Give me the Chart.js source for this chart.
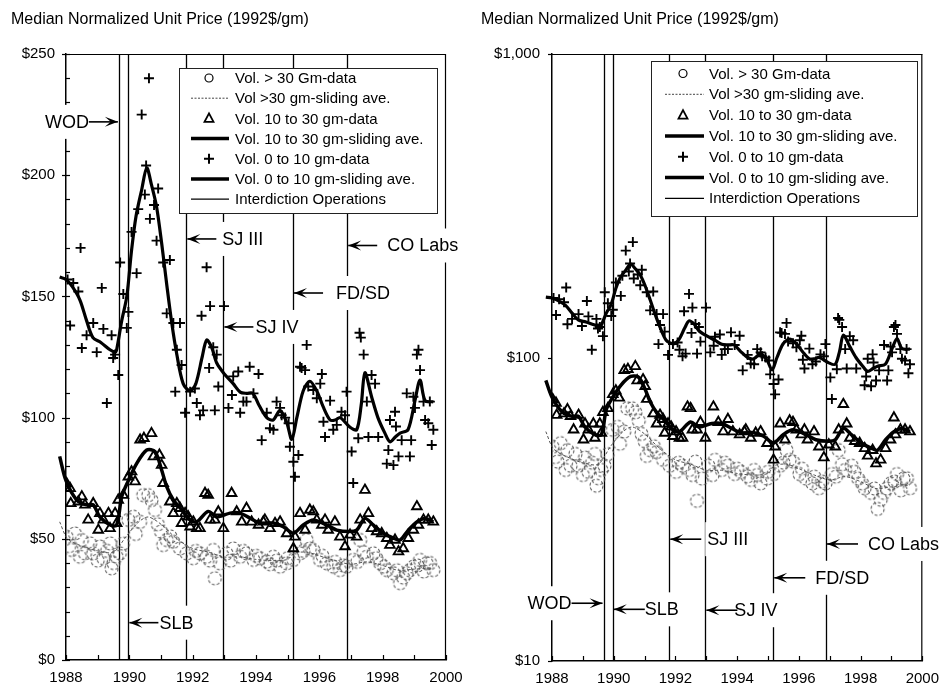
<!DOCTYPE html>
<html><head><meta charset="utf-8">
<script src="https://cdn.jsdelivr.net/npm/chart.js@4.4.1/dist/chart.umd.min.js"></script>
<style>
html,body{margin:0;padding:0;background:#fff;width:948px;height:698px;overflow:hidden}
.wrap{position:absolute;top:0;width:474px;height:698px}
canvas{display:block}
</style></head><body>
<div class="wrap" style="left:0"><canvas id="c1" width="474" height="698"></canvas></div>
<div class="wrap" style="left:474px"><canvas id="c2" width="474" height="698"></canvas></div>
<script>
// ---------------- DATA ----------------
const titleText = 'Median Normalized Unit Price (1992$/gm)';
const legendLabels = ['Vol. > 30 Gm-data','Vol >30 gm-sliding ave.','Vol. 10 to 30 gm-data','Vol. 10 to 30 gm-sliding ave.','Vol. 0 to 10 gm-data','Vol. 0 to 10 gm-sliding ave.','Interdiction Operations'];
const xTickYears = [1988,1990,1992,1994,1996,1998,2000];
const yTicksLinear = [0,50,100,150,200,250];
const yTicksLog = [10,100,1000];
const interdictionYears = [1989.67,1989.97,1991.8,1992.97,1995.17,1996.88];
const interdictionLabels = ['WOD','SLB','SJ III','SJ IV','FD/SD','CO Labs'];

// Vol. 0 to 10 gm - data
const smallYears = [1988.05,1988.13,1988.23,1988.39,1988.46,1988.5,1988.65,1988.86,1988.97,1989.13,1989.18,1989.29,1989.44,1989.49,1989.55,1989.65,1989.71,1989.81,1989.92,1989.97,1990.07,1990.23,1990.28,1990.39,1990.49,1990.53,1990.62,1990.65,1990.78,1990.86,1990.91,1991.07,1991.18,1991.28,1991.39,1991.45,1991.5,1991.6,1991.65,1991.76,1991.92,1992.07,1992.13,1992.23,1992.28,1992.33,1992.44,1992.52,1992.55,1992.65,1992.7,1992.76,1992.81,1992.99,1993.13,1993.24,1993.28,1993.44,1993.5,1993.6,1993.7,1993.8,1993.92,1994.08,1994.18,1994.34,1994.44,1994.55,1994.65,1994.76,1994.81,1994.92,1995.03,1995.07,1995.18,1995.23,1995.34,1995.39,1995.44,1995.55,1995.6,1995.65,1995.81,1995.92,1996.03,1996.08,1996.13,1996.18,1996.34,1996.44,1996.55,1996.7,1996.81,1996.86,1997.02,1997.07,1997.23,1997.27,1997.31,1997.4,1997.5,1997.55,1997.65,1997.76,1997.86,1998.13,1998.18,1998.23,1998.34,1998.39,1998.42,1998.5,1998.6,1998.76,1998.86,1998.9,1998.97,1999.02,1999.08,1999.13,1999.18,1999.29,1999.34,1999.44,1999.49,1999.55,1999.6];
const smallVals = [157,138,155.5,152,170,128.7,134,139,127,153.5,136.6,106,134,124.6,126,117.6,164,151,137,143.6,176.6,159.6,186,225,192,204,240,182,187.7,173,194.5,164,143,165,139,110.7,128,139,121.7,102,110.7,112,106,101,142,103,162,120.5,146,129,103,126,112.8,146,104,109.3,117,119,102,106.6,106.6,121,110,118,90.7,102,95.6,95,106.6,104,101,100,97.7,88,81.8,75.6,84.6,121,120.5,119.6,130,112.8,111.4,108,114,118,98.3,92,107,95,97,102.4,101,110.7,86,73,91.5,135,133,126,106.6,92,117.6,114,92,81,86.6,99,80.4,102.4,96.3,84,90.7,110,84,90.7,108.6,104,126,128,119.6,106.6,99,97.7,106.6,88.7,95];

// Vol. 0 to 10 gm - sliding average
const smallAvgYears = [1987.8,1988.0,1988.2,1988.44,1988.65,1988.85,1989.1,1989.39,1989.55,1989.6,1989.76,1989.92,1990.07,1990.21,1990.39,1990.55,1990.7,1990.86,1991.02,1991.18,1991.34,1991.5,1991.7,1991.92,1992.1,1992.3,1992.44,1992.6,1992.76,1993.0,1993.28,1993.5,1993.7,1993.9,1994.1,1994.34,1994.54,1994.76,1994.97,1995.13,1995.29,1995.49,1995.7,1995.92,1996.12,1996.34,1996.5,1996.66,1996.97,1997.18,1997.32,1997.44,1997.65,1997.85,1998.07,1998.23,1998.4,1998.55,1998.8,1999.02,1999.18,1999.34,1999.6];
const smallAvgVals = [158,157,154,148.5,140,133,131,128,127,128,140,150,169,183,194,203,196,187,172,155,139,126,114,111,114,125,132,129,122.5,118,114,110.5,110,110,105,100,99,103,98,91,100,111,115,111,104.5,99,99,100,96,95,105,118.5,108.6,100,93.6,90,92,93.6,95,107,115.5,107,106.5];

// Vol. 10 to 30 gm - data
const midYears = [1988.02,1988.13,1988.15,1988.39,1988.5,1988.6,1988.7,1988.86,1989.02,1989.07,1989.18,1989.34,1989.39,1989.55,1989.6,1989.65,1989.81,1989.97,1990.07,1990.18,1990.34,1990.46,1990.7,1990.76,1990.95,1991.02,1991.07,1991.28,1991.39,1991.5,1991.6,1991.65,1991.76,1991.86,1991.92,1992.02,1992.13,1992.23,1992.39,1992.49,1992.55,1992.7,1992.81,1992.97,1993.23,1993.39,1993.55,1993.7,1993.86,1994.08,1994.23,1994.28,1994.44,1994.6,1994.76,1994.97,1995.18,1995.23,1995.39,1995.55,1995.7,1995.81,1995.92,1996.08,1996.18,1996.28,1996.49,1996.65,1996.81,1996.97,1997.18,1997.29,1997.44,1997.55,1997.65,1997.81,1997.97,1998.13,1998.23,1998.39,1998.5,1998.65,1998.81,1998.97,1999.08,1999.13,1999.29,1999.44,1999.6];
const midVals = [72.8,70.8,64.6,65.3,67.4,64,57.8,64.6,53.6,60.5,57.8,60.5,54.3,60.5,56.4,66,68,75.6,77.7,73.6,90.8,91.5,93.5,83.9,84.6,80.4,72.9,65.3,60.5,64.6,62.6,56.4,60.5,59.1,55,57,54.3,54.3,68.8,68,57.8,57.8,61.2,54.3,68.8,61.2,57,62.6,57,55.7,57,57.8,54.3,56.4,57,52.2,46,50.8,60.5,53.6,61.9,61.2,57.8,55.7,57.8,53.6,57,50.8,46.8,51.6,50.8,57.8,70.1,60.5,54.3,53,52.2,50.2,47.4,49.5,44.7,46,50.2,53.6,63.3,55.7,57.8,57.8,57];

// Vol. 10 to 30 gm - sliding average
const midAvgYears = [1987.8,1988.0,1988.34,1988.65,1988.86,1989.07,1989.39,1989.6,1989.76,1989.97,1990.23,1990.55,1990.81,1991.02,1991.18,1991.39,1991.65,1991.92,1992.13,1992.49,1992.76,1993.18,1993.5,1993.81,1994.13,1994.55,1994.86,1995.18,1995.49,1995.81,1996.23,1996.55,1996.97,1997.18,1997.44,1997.7,1998.02,1998.34,1998.55,1998.81,1999.08,1999.34,1999.6];
const midAvgVals = [84,74,66,64,64,59,55.7,55.7,67.4,74,81,86.6,86,78.4,71.5,66,62,57.8,57,61.3,59,60.6,60.6,58.5,56.5,56.5,55,52.3,55.7,57.8,55.7,53.6,53,53.6,58.4,55.7,52.3,50.3,49.5,53.6,57,58.4,57];

// Vol. > 30 gm - data
const largeYears = [1988.02,1988.1,1988.18,1988.28,1988.44,1988.5,1988.6,1988.76,1988.86,1989.0,1989.07,1989.18,1989.3,1989.39,1989.44,1989.5,1989.6,1989.7,1989.8,1989.97,1990.13,1990.2,1990.34,1990.44,1990.6,1990.7,1990.81,1990.9,1991.0,1991.07,1991.18,1991.3,1991.39,1991.6,1991.81,1992.02,1992.1,1992.23,1992.44,1992.55,1992.65,1992.7,1992.86,1993.07,1993.2,1993.28,1993.5,1993.6,1993.7,1993.92,1994.0,1994.13,1994.34,1994.45,1994.55,1994.65,1994.76,1994.97,1995.0,1995.18,1995.39,1995.5,1995.6,1995.7,1995.81,1996.02,1996.1,1996.23,1996.44,1996.5,1996.65,1996.75,1996.86,1997.07,1997.2,1997.29,1997.4,1997.5,1997.71,1997.8,1997.92,1998.05,1998.13,1998.34,1998.45,1998.55,1998.65,1998.76,1998.85,1998.97,1999.1,1999.18,1999.3,1999.39,1999.5,1999.6];
const largeVals = [50.8,47,45.4,52.2,42.6,49.5,44,48.1,44,41,46.8,42,45,48.1,37.8,40,42.6,44,48,57.8,59.1,52,57,68,68,66,61.9,56,53,47.4,49.5,51,48.8,46,44,42,45,44,42.6,41,45.4,33.7,39.9,44,41,46,42.6,45,44,41.3,43,42,40.6,39.5,42.6,41,38.5,39.9,42,41.3,44,45,49.5,46,45.4,41.3,43,39.9,38.5,40.5,37.1,39,38.5,41.3,40.5,49.5,44.5,42.6,44,42,39.9,38.5,37.1,35.8,37,31.7,34,35.8,37,38.5,39,41.3,36.5,39.9,40,37.1];

// Vol. > 30 gm - sliding average
const largeAvgYears = [1987.8,1988.05,1988.5,1989.0,1989.5,1989.9,1990.3,1990.6,1991.0,1991.5,1992.0,1992.5,1993.0,1993.5,1994.0,1994.5,1995.0,1995.2,1995.6,1996.0,1996.5,1997.0,1997.5,1998.0,1998.5,1999.0,1999.6];
const largeAvgVals = [57,50,47,45,44.5,51,57,59,56,50,46,44.5,42.5,42.5,41.5,41,41.5,44,44.5,43,41,39.5,40.5,39,37,37.5,38];

// ---------------- STYLE / LAYOUT ----------------
const FONT = '"Liberation Sans", Arial, Helvetica, sans-serif';
Chart.defaults.font.family = FONT;
Chart.defaults.font.size = 15;
Chart.defaults.color = '#000';

const panels = [
  { id:'c1', type:'linear', min:0, max:250, ticks:yTicksLinear, minorStep:10, yWidth:66, padRight:28, xHeight:38, yPad:11,
    titleX:11,
    legend:{x0:179,y0:68,x1:437,y1:213,row0:78,step:20.2,symX:209,lineX0:191,lineX1:229,textX:235},
    labelVals:[222,15.4,173.7,137.4,151.4,171], labelGaps:[0,1,6,2,13,10], arrowLen:29 },
  { id:'c2', type:'logarithmic', min:10, max:1000, ticks:yTicksLog, minorStep:0, yWidth:78, padRight:21, xHeight:37, yPad:12,
    titleX:7,
    legend:{x0:177,y0:61,x1:443,y1:216,row0:73.5,step:20.8,symX:209,lineX0:191,lineX1:230,textX:235},
    labelVals:[15.5,14.8,25.2,14.7,18.8,24.3], labelGaps:[0,0,6,-3,10,10], arrowLen:31 }
];

function pts(xs, ys){ return xs.map((x,i)=>({x:x, y:ys[i]})); }

function dashedCircle(r){
  const s = Math.ceil(2*r+4);
  const c = document.createElement('canvas'); c.width=s; c.height=s;
  const g = c.getContext('2d');
  g.strokeStyle='#5a5a5a'; g.lineWidth=1.1; g.setLineDash([3,2]);
  g.beginPath(); g.arc(s/2,s/2,r,0,Math.PI*2); g.stroke();
  return c;
}
const circleImg = dashedCircle(6.5);

function drawArrow(ctx, tipX, y, dir, len){
  // dir = -1 : pointing left ; dir = +1 : pointing right
  const tailX = tipX - dir*len;
  ctx.save();
  ctx.strokeStyle='#000'; ctx.fillStyle='#000'; ctx.lineWidth=1.6;
  ctx.beginPath(); ctx.moveTo(tailX,y); ctx.lineTo(tipX,y); ctx.stroke();
  const hl=13, hw=5;
  ctx.beginPath();
  ctx.moveTo(tipX,y);
  ctx.lineTo(tipX - dir*hl, y-hw);
  ctx.lineTo(tipX - dir*hl*0.55, y);
  ctx.lineTo(tipX - dir*hl, y+hw);
  ctx.closePath(); ctx.fill();
  ctx.restore();
}

function makePlugin(p){
  return {
    id:'decor',
    beforeDatasetsDraw(chart){
      const {ctx, chartArea:a, scales:{x, y}} = chart;
      ctx.save();
      ctx.strokeStyle='#000';
      ctx.lineWidth=1.3;
      interdictionYears.forEach(v=>{
        const px = Math.round(x.getPixelForValue(v))+0.5;
        ctx.beginPath(); ctx.moveTo(px,a.top); ctx.lineTo(px,a.bottom); ctx.stroke();
      });
      ctx.lineWidth=1.2;
      ctx.beginPath(); ctx.moveTo(a.left-4,a.top+0.5); ctx.lineTo(a.right,a.top+0.5); ctx.stroke();
      ctx.beginPath(); ctx.moveTo(a.right-0.5,a.top); ctx.lineTo(a.right-0.5,a.bottom); ctx.stroke();
      for(let yr=1988; yr<=2000; yr++){
        const px = Math.round(x.getPixelForValue(yr))+0.5;
        ctx.beginPath(); ctx.moveTo(px,a.bottom); ctx.lineTo(px,a.bottom-5); ctx.stroke();
      }
      if(p.minorStep){
        for(let v=p.min; v<=p.max; v+=p.minorStep){
          const py = Math.round(y.getPixelForValue(v))+0.5;
          ctx.beginPath(); ctx.moveTo(a.left,py); ctx.lineTo(a.left+4,py); ctx.stroke();
        }
      }
      p.ticks.forEach(v=>{
        const py = Math.round(y.getPixelForValue(v))+0.5;
        ctx.beginPath(); ctx.moveTo(a.left-4,py); ctx.lineTo(a.left,py); ctx.stroke();
      });
      ctx.restore();
    },
    afterDatasetsDraw(chart){
      const {ctx, chartArea:a, scales:{x, y}} = chart;
      ctx.save();
      ctx.font = '18px '+FONT;
      ctx.textBaseline='middle';
      interdictionLabels.forEach((t,i)=>{
        const lx = x.getPixelForValue(interdictionYears[i]);
        const ly = y.getPixelForValue(p.labelVals[i]);
        const w = ctx.measureText(t).width;
        let tx, tipX, dir;
        if(i===0){
          dir = 1; tipX = lx-1; tx = lx - p.arrowLen - 1 - w;
        } else {
          dir = -1; tipX = lx+1; tx = lx + 1 + p.arrowLen + p.labelGaps[i];
        }
        ctx.fillStyle='#fff';
        ctx.fillRect(tx-2, ly-17, w+4, 34);
        ctx.fillStyle='#000';
        ctx.textAlign='left';
        ctx.fillText(t, tx, ly+1);
        drawArrow(ctx, tipX, ly, dir, p.arrowLen);
      });
      const L = p.legend;
      ctx.fillStyle='#fff';
      ctx.fillRect(L.x0, L.y0, L.x1-L.x0, L.y1-L.y0);
      ctx.strokeStyle='#222'; ctx.lineWidth=1;
      ctx.strokeRect(L.x0+0.5, L.y0+0.5, L.x1-L.x0, L.y1-L.y0);
      ctx.font='15px '+FONT;
      ctx.textAlign='left'; ctx.textBaseline='middle';
      legendLabels.forEach((t,i)=>{
        const ry = L.row0 + i*L.step;
        ctx.strokeStyle='#000'; ctx.fillStyle='#000'; ctx.setLineDash([]);
        if(i===0){
          ctx.lineWidth=1.2; ctx.beginPath(); ctx.arc(L.symX, ry, 4, 0, Math.PI*2); ctx.stroke();
        } else if(i===2){
          ctx.lineWidth=1.8; ctx.beginPath();
          ctx.moveTo(L.symX, ry-5); ctx.lineTo(L.symX-4.5, ry+3.5); ctx.lineTo(L.symX+4.5, ry+3.5); ctx.closePath(); ctx.stroke();
        } else if(i===4){
          ctx.lineWidth=2; ctx.beginPath();
          ctx.moveTo(L.symX-5, ry); ctx.lineTo(L.symX+5, ry);
          ctx.moveTo(L.symX, ry-5); ctx.lineTo(L.symX, ry+5); ctx.stroke();
        } else {
          let lw = 1.2;
          if(i===1){ lw=1; ctx.setLineDash([2,1.5]); ctx.strokeStyle='#444'; }
          if(i===3 || i===5) lw=3.5;
          ctx.lineWidth=lw; ctx.beginPath(); ctx.moveTo(L.lineX0, ry); ctx.lineTo(L.lineX1, ry); ctx.stroke();
          ctx.setLineDash([]);
        }
        ctx.fillStyle='#000';
        ctx.fillText(t, L.textX, ry+1);
      });
      ctx.font='16px '+FONT;
      ctx.textAlign='left'; ctx.textBaseline='middle';
      ctx.fillText(titleText, p.titleX, 20);
      ctx.restore();
    }
  };
}

const clipLeft = {left:10, top:0, right:0, bottom:0};

panels.forEach(p=>{
  new Chart(document.getElementById(p.id), {
    type:'scatter',
    data:{ datasets:[
      { label:legendLabels[5], data:pts(smallAvgYears, smallAvgVals), showLine:true, borderColor:'#000', borderWidth:3.2, pointRadius:0, tension:0.3, clip:clipLeft },
      { label:legendLabels[4], data:pts(smallYears, smallVals), showLine:false, pointStyle:'cross', pointRadius:5, borderColor:'#000', borderWidth:1.9 },
      { label:legendLabels[3], data:pts(midAvgYears, midAvgVals), showLine:true, borderColor:'#000', borderWidth:3.5, pointRadius:0, tension:0.3, clip:clipLeft },
      { label:legendLabels[2], data:pts(midYears, midVals), showLine:false, pointStyle:'triangle', pointRadius:5.5, borderColor:'#000', backgroundColor:'rgba(0,0,0,0)', borderWidth:1.9 },
      { label:legendLabels[1], data:pts(largeAvgYears, largeAvgVals), showLine:true, borderColor:'#555', borderWidth:1, borderDash:[3,2], pointRadius:0, tension:0.3, clip:clipLeft },
      { label:legendLabels[0], data:pts(largeYears, largeVals), showLine:false, pointStyle:circleImg, pointRadius:6.5, borderColor:'#666' }
    ]},
    options:{
      responsive:false, animation:false, devicePixelRatio:1,
      layout:{ padding:{ left:0, right:p.padRight, top:54, bottom:0 } },
      plugins:{ legend:{display:false}, tooltip:{enabled:false}, title:{display:false} },
      events:[],
      scales:{
        x:{ type:'linear', min:1988, max:2000,
            grid:{display:false, drawTicks:false},
            border:{display:true, color:'#000', width:1.5},
            afterBuildTicks:s=>{ s.ticks = xTickYears.map(v=>({value:v})); },
            afterFit:s=>{ s.height = p.xHeight; },
            ticks:{ padding:9, maxRotation:0, autoSkip:false, font:{size:15}, callback:v=>String(v) } },
        y:{ type:p.type, min:p.min, max:p.max,
            grid:{display:false, drawTicks:false},
            border:{display:true, color:'#000', width:1.5},
            afterBuildTicks:s=>{ s.ticks = p.ticks.map(v=>({value:v})); },
            afterFit:s=>{ s.width = p.yWidth; },
            ticks:{ padding:p.yPad, autoSkip:false, font:{size:15}, callback:v=>'$'+Number(v).toLocaleString('en-US') } }
      }
    },
    plugins:[makePlugin(p)]
  });
});
</script>
</body></html>
